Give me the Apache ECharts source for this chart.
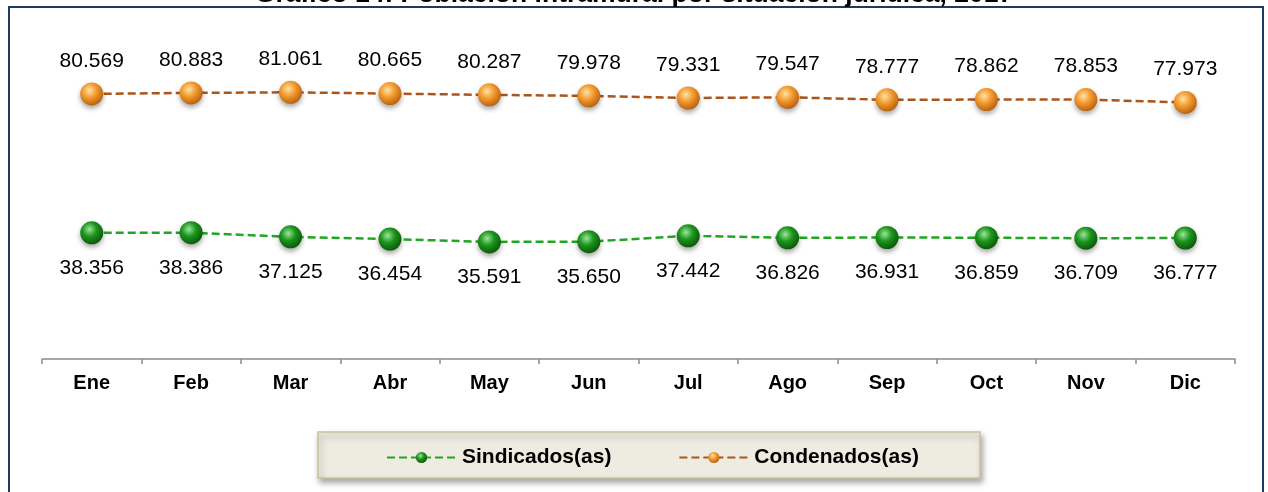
<!DOCTYPE html>
<html>
<head>
<meta charset="utf-8">
<script src="https://cdn.jsdelivr.net/npm/echarts@6/dist/echarts.min.js"></script>
<style>
html, body { margin: 0; padding: 0; background: #fff; }
#container { width: 1268px; height: 492px; }
</style>
</head>
<body>
<div id="container"></div>
<script>
// meses y valores (miles de personas)
var meses = ['Ene', 'Feb', 'Mar', 'Abr', 'May', 'Jun', 'Jul', 'Ago', 'Sep', 'Oct', 'Nov', 'Dic'];
var sindicados = [38.356, 38.386, 37.125, 36.454, 35.591, 35.650, 37.442, 36.826, 36.931, 36.859, 36.709, 36.777];
var condenados = [80.569, 80.883, 81.061, 80.665, 80.287, 79.978, 79.331, 79.547, 78.777, 78.862, 78.853, 77.973];
var nombres = ['Sindicados(as)', 'Condenados(as)'];

var fuente = 'Liberation Sans, Arial, sans-serif';

function esfera(claro, medio, oscuro) {
	return {
		type: 'radial', x: 0.4, y: 0.35, r: 0.7,
		colorStops: [
			{offset: 0, color: claro},
			{offset: 0.45, color: medio},
			{offset: 1, color: oscuro}
		]
	};
}

function fmt(v) {
	return v.toFixed(3);
}

var option = {
	animation: false,
	graphic: [
		{
			type: 'rect', z: -1,
			shape: {x: 9, y: 7, width: 1254, height: 520},
			style: {fill: '#fff', stroke: '#1F3A5F', lineWidth: 2}
		},
		{
			type: 'text', z: 5,
			style: {
				x: 634, y: -19,
				text: 'Gráfico 14: Población intramural por situación jurídica, 2017',
				font: 'bold 26.5px ' + fuente,
				fill: '#000',
				textAlign: 'center',
				textVerticalAlign: 'top'
			}
		},
		{
			type: 'rect', z: 0,
			shape: {x: 318, y: 432, width: 662, height: 46},
			style: {
				fill: '#EEEBE0', stroke: '#C9C29E', lineWidth: 1.5,
				shadowBlur: 6, shadowOffsetX: 2, shadowOffsetY: 4,
				shadowColor: 'rgba(0,0,0,0.35)'
			}
		}
	],
	grid: {left: 42, right: 33, top: 30, bottom: 133},
	legend: {
		data: nombres,
		left: 386,
		top: 447,
		padding: 0,
		itemWidth: 69,
		itemHeight: 14,
		itemGap: 67,
		textStyle: {fontFamily: fuente, fontSize: 21, fontWeight: 'bold', color: '#000', padding: [0, 0, 0, 1]}
	},
	xAxis: {
		type: 'category',
		data: meses,
		boundaryGap: true,
		axisLine: {lineStyle: {color: '#8C8C8C', width: 1.5}},
		axisTick: {show: true, inside: false, length: 5, lineStyle: {color: '#8C8C8C', width: 1.5}},
		axisLabel: {fontFamily: fuente, fontSize: 20, fontWeight: 'bold', color: '#000', margin: 14}
	},
	yAxis: {
		type: 'value',
		min: 0,
		max: 100,
		show: false,
		splitLine: {show: false}
	},
	series: [
		{
			name: nombres[0],
			type: 'line',
			data: sindicados,
			symbol: 'circle',
			symbolSize: 23,
			lineStyle: {color: '#22A522', width: 2.5, type: [8, 4]},
			itemStyle: {
				color: esfera('#9BE59B', '#1C951C', '#0A520A'),
				shadowBlur: 5, shadowOffsetY: 3, shadowColor: 'rgba(0,0,0,0.35)'
			},
			label: {
				show: true, position: 'bottom', distance: 13,
				fontFamily: fuente, fontSize: 21, color: '#000',
				formatter: function (p) { return fmt(p.value); }
			}
		},
		{
			name: nombres[1],
			type: 'line',
			data: condenados,
			symbol: 'circle',
			symbolSize: 23,
			lineStyle: {color: '#A9551B', width: 2.5, type: [8, 4]},
			itemStyle: {
				color: esfera('#FFE2A6', '#F39A2E', '#B25C0E'),
				shadowBlur: 5, shadowOffsetY: 3, shadowColor: 'rgba(0,0,0,0.35)'
			},
			label: {
				show: true, position: 'top', distance: 11,
				fontFamily: fuente, fontSize: 21, color: '#000',
				formatter: function (p) { return fmt(p.value); }
			}
		}
	]
};

var myChart = echarts.init(document.getElementById('container'));
myChart.setOption(option);
</script>
</body>
</html>
